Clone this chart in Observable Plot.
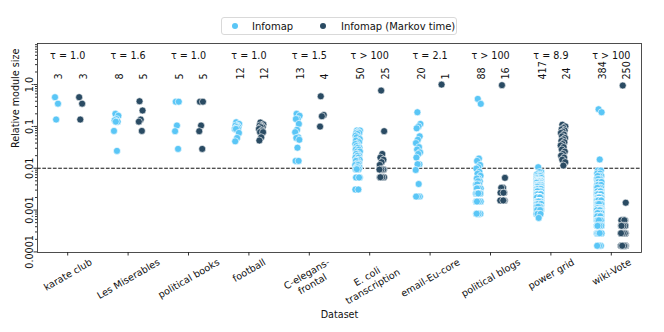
<!DOCTYPE html>
<html><head><meta charset="utf-8">
<script src="https://cdn.jsdelivr.net/npm/d3@7"></script>
<script src="https://cdn.jsdelivr.net/npm/@observablehq/plot@0.6"></script>
<style>
body{margin:0;background:#fff;font-family:"DejaVu Sans",sans-serif;}
#wrap{position:relative;width:664px;height:332px;overflow:hidden;}
#legend{position:absolute;left:221px;top:17px;width:236px;height:18px;border:1px solid #d9d9d9;border-radius:3px;box-sizing:border-box;font-size:10px;color:#111;}
#legend .dot{position:absolute;top:5px;width:6px;height:6px;border-radius:50%;}
#legend .lab{position:absolute;top:1.5px;white-space:nowrap;line-height:13px;}
</style></head><body>
<div id="wrap"><div id="legend"></div></div>
<script>
const datasets = ["karate club","Les Miserables","political books","football","C-elegans-\nfrontal","E. coli\ntranscription","email-Eu-core","political blogs","power grid","wiki-Vote"];
const tauLabels = ["τ = 1.0","τ = 1.6","τ = 1.0","τ = 1.0","τ = 1.5","τ > 100","τ = 2.1","τ > 100","τ = 8.9","τ > 100"];
const methods = ["Infomap","Infomap (Markov time)"];
const colors = ["#5ac6f6","#2a4b63"];
const yTicks = [1, 0.1, 0.01, 0.001, 0.0001];
const yTickLabels = ["1.0","0.1","0.01","0.001","0.0001"];
const threshold = 0.01;

// relative module sizes per dataset as [value, count] pairs
const karateInfomap = [[0.5,1],[0.35,1],[0.146,1]];
const karateMarkov = [[0.5,1],[0.35,1],[0.146,1]];
const lesmisInfomap = [[0.2,1],[0.18,1],[0.15,1],[0.14,1],[0.13,2],[0.078,1],[0.026,1]];
const lesmisMarkov = [[0.4,1],[0.24,1],[0.146,1],[0.13,1],[0.078,1]];
const polbooksInfomap = [[0.39,2],[0.105,1],[0.077,1],[0.029,1]];
const polbooksMarkov = [[0.39,2],[0.105,1],[0.077,1],[0.029,1]];
const footballInfomap = [[0.126,1],[0.115,1],[0.105,2],[0.096,2],[0.087,3],[0.07,1],[0.053,1],[0.044,1]];
const footballMarkov = [[0.124,1],[0.112,1],[0.105,2],[0.096,2],[0.087,1],[0.08,1],[0.073,2],[0.055,1],[0.046,1]];
const celegansInfomap = [[0.2,1],[0.18,1],[0.15,2],[0.115,1],[0.083,1],[0.073,1],[0.055,1],[0.053,1],[0.048,1],[0.031,1],[0.015,2]];
const celegansMarkov = [[0.525,1],[0.188,1],[0.175,1],[0.099,1]];
const ecoliInfomap = [[0.08,2],[0.075,1],[0.07,2],[0.066,1],[0.06,1],[0.055,2],[0.05,1],[0.046,2],[0.042,1],[0.038,2],[0.034,2],[0.031,2],[0.028,2],[0.025,2],[0.022,2],[0.02,2],[0.018,2],[0.016,2],[0.015,2],[0.013,2],[0.012,2],[0.0105,3],[0.0095,3],[0.006,4],[0.0031,3]];
const ecoliMarkov = [[0.72,1],[0.077,1],[0.022,1],[0.018,1],[0.016,1],[0.014,1],[0.012,1],[0.0093,8],[0.0061,10]];
const emailInfomap = [[0.218,1],[0.115,1],[0.1,1],[0.09,1],[0.058,1],[0.048,1],[0.04,1],[0.032,1],[0.028,1],[0.024,1],[0.022,1],[0.018,1],[0.0125,2],[0.0091,1],[0.0042,1],[0.0021,4]];
const emailMarkov = [[1.0,1]];
const polblogsInfomap = [[0.455,1],[0.346,1],[0.017,1],[0.015,1],[0.012,1],[0.0106,1],[0.0098,1],[0.0082,1],[0.0074,1],[0.0066,1],[0.0057,2],[0.0049,2],[0.0041,3],[0.0033,8],[0.0025,15],[0.0016,40],[0.00082,8]];
const polblogsMarkov = [[0.97,1],[0.0059,1],[0.0034,2],[0.0026,4],[0.0017,8]];
const powerInfomap = [[0.0106,1],[0.0081,2],[0.0071,4],[0.0065,6],[0.0059,10],[0.0053,15],[0.0049,20],[0.0045,25],[0.004,30],[0.0036,35],[0.0032,40],[0.0028,36],[0.0024,40],[0.002,45],[0.0016,40],[0.0014,30],[0.0012,20],[0.001,12],[0.00081,5],[0.00065,1]];
const powerMarkov = [[0.11,1],[0.1,1],[0.092,1],[0.085,1],[0.08,1],[0.075,1],[0.07,1],[0.064,1],[0.058,1],[0.053,1],[0.049,1],[0.045,1],[0.042,1],[0.038,1],[0.035,1],[0.032,1],[0.028,1],[0.025,1],[0.022,1],[0.02,1],[0.018,1],[0.016,1],[0.014,1],[0.0116,1]];
const wikiInfomap = [[0.257,1],[0.218,1],[0.0162,1],[0.0088,2],[0.0075,3],[0.0065,4],[0.0055,5],[0.0047,6],[0.004,8],[0.0034,10],[0.0028,14],[0.0024,18],[0.002,22],[0.0017,25],[0.0014,30],[0.0011,35],[0.00099,30],[0.00085,30],[0.00071,30],[0.00057,40],[0.00042,40],[0.00028,25],[0.00014,4]];
const wikiMarkov = [[0.95,1],[0.0015,1],[0.00057,6],[0.00042,12],[0.00028,50],[0.00014,180]];

const infomapSizes = [karateInfomap, lesmisInfomap, polbooksInfomap, footballInfomap, celegansInfomap, ecoliInfomap, emailInfomap, polblogsInfomap, powerInfomap, wikiInfomap];
const markovSizes = [karateMarkov, lesmisMarkov, polbooksMarkov, footballMarkov, celegansMarkov, ecoliMarkov, emailMarkov, polblogsMarkov, powerMarkov, wikiMarkov];

const groupOffset = 0.2;
const rows = [];
const counts = [];
[infomapSizes, markovSizes].forEach((sizes, m) => {
  sizes.forEach((pairs, i) => {
    let k = 0;
    pairs.forEach(([v, c]) => {
      for (let j = 0; j < c; j++) {
        const jit = (((k * 0.618034 + 0.37) % 1) - 0.5) * 0.08;
        rows.push({i, m, method: methods[m], x: i + (m ? groupOffset : -groupOffset) + jit, y: v});
        k++;
      }
    });
    counts.push({i, m, x: i + (m ? groupOffset : -groupOffset), n: k});
  });
});
rows.sort((a, b) => a.i - b.i || a.m - b.m);

const font = "DejaVu Sans";
const fs = 9.6;
const ctx = document.createElement("canvas").getContext("2d");
ctx.font = `${fs}px "${font}"`;

const minorTicks = [];
[0.0001, 0.001, 0.01, 0.1, 1].forEach(d => { for (let k = 2; k <= 9; k++) minorTicks.push(d * k); });

const xLabelMarks = datasets.map((name, i) => {
  const lines = name.split("\n");
  const w = Math.max(...lines.map(l => ctx.measureText(l).width));
  const h = lines.length * fs * 1.2;
  const H = w * Math.sin(Math.PI / 6) + h * Math.cos(Math.PI / 6);
  return Plot.text([name], {x: () => i, frameAnchor: "bottom", text: d => d, rotate: -30, textAnchor: "middle", lineAnchor: "middle", lineHeight: 1.2, dy: 3.4 + H / 2, fontSize: fs, fill: "#111"});
});

const chart = Plot.plot({
  width: 664, height: 332,
  marginLeft: 37, marginRight: 23, marginTop: 43, marginBottom: 80,
  style: {fontFamily: font, fontSize: fs + "px", color: "#111", background: "white"},
  x: {type: "linear", domain: [-0.5, 9.5], axis: null},
  y: {type: "log", domain: [0.0000968, 9.6], axis: null},
  marks: [
    Plot.ruleY([threshold], {stroke: "#111", strokeWidth: 1, strokeDasharray: "3.7,1.6"}),
    Plot.dot(rows, {x: "x", y: "y", r: 3.5, fill: d => colors[d.m], stroke: "white", strokeWidth: 0.6}),
    Plot.axisY({ticks: minorTicks, tickSize: 2, tickFormat: () => "", label: null, stroke: "#333"}),
    Plot.axisY({ticks: yTicks, tickSize: 3.5, tickRotate: -90, tickPadding: 1.5, tickFormat: (d, j) => yTickLabels[yTicks.indexOf(d)], label: null, fontSize: fs, stroke: "#333", fill: "#111"}),
    Plot.axisX({ticks: d3.range(datasets.length), tickSize: 3.5, tickFormat: () => "", label: null, stroke: "#333"}),
    ...xLabelMarks,
    Plot.text(tauLabels, {x: (d, i) => i, frameAnchor: "top", dy: 9, text: d => d, fontSize: fs, fill: "#111"}),
    Plot.text(counts, {x: "x", frameAnchor: "top", dy: 36, text: d => String(d.n), rotate: -90, textAnchor: "start", fontSize: fs, fill: "#111"}),
    Plot.text(["Relative module size"], {frameAnchor: "left", dx: -22, rotate: -90, text: d => d, fontSize: fs, fill: "#111"}),
    Plot.text(["Dataset"], {frameAnchor: "bottom", dy: 65, text: d => d, fontSize: fs, fill: "#111"}),
    Plot.frame({stroke: "#222", strokeWidth: 0.8})
  ]
});
const wrap = document.getElementById("wrap");
wrap.insertBefore(chart, wrap.firstChild);

const legend = document.getElementById("legend");
const legendPos = [[10, 30], [98, 119]];
methods.forEach((name, m) => {
  const dot = document.createElement("div");
  dot.className = "dot"; dot.style.left = legendPos[m][0] + "px"; dot.style.background = colors[m];
  const lab = document.createElement("div");
  lab.className = "lab"; lab.style.left = legendPos[m][1] + "px"; lab.textContent = name;
  legend.appendChild(dot); legend.appendChild(lab);
});
</script></body></html>
